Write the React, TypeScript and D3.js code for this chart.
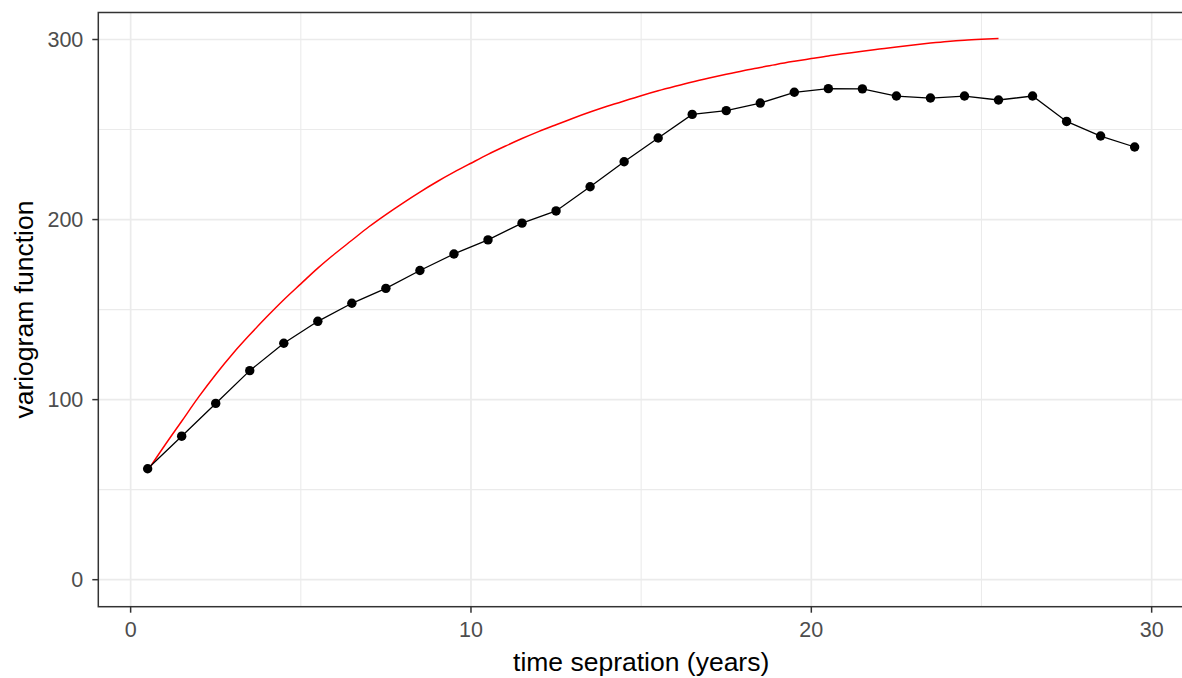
import React from "react";
import * as d3 from "d3";

const lagValues = [0.5, 1.5, 2.5, 3.5, 4.5, 5.5, 6.5, 7.5, 8.5, 9.5, 10.5, 11.5, 12.5, 13.5, 14.5, 15.5, 16.5, 17.5, 18.5, 19.5, 20.5, 21.5, 22.5, 23.5, 24.5, 25.5, 26.5, 27.5, 28.5, 29.5];
const empiricalValues = [61.6, 79.7, 97.9, 116.1, 131.3, 143.5, 153.5, 161.8, 171.7, 180.9, 188.7, 198.0, 204.8, 218.2, 232.1, 245.3, 258.4, 260.5, 264.7, 270.7, 272.7, 272.6, 268.6, 267.5, 268.6, 266.4, 268.6, 254.5, 246.4, 240.3];

const modelLags = [0.5, 1, 1.5, 2, 2.5, 3, 3.5, 4, 4.5, 5, 5.5, 6, 6.5, 7, 7.5, 8, 8.5, 9, 9.5, 10, 10.5, 11, 11.5, 12, 12.5, 13, 13.5, 14, 14.5, 15, 15.5, 16, 16.5, 17, 17.5, 18, 18.5, 19, 19.5, 20, 20.5, 21, 21.5, 22, 22.5, 23, 23.5, 24, 24.5, 25, 25.5];
const modelValues = [60.5, 74.5, 88, 101.5, 114, 125.5, 136, 146, 155.5, 164.3, 173, 181, 188.5, 196, 202.8, 209.2, 215.3, 221, 226.3, 231.3, 236.2, 240.7, 245, 249, 252.7, 256.3, 259.7, 262.9, 265.9, 268.8, 271.5, 274, 276.4, 278.6, 280.7, 282.7, 284.5, 286.3, 287.9, 289.4, 290.9, 292.2, 293.5, 294.7, 295.9, 297, 298, 298.9, 299.6, 300.1, 300.5];

const xTicks = [0, 10, 20, 30];
const xMinor = [5, 15, 25];
const yTicks = [0, 100, 200, 300];
const yMinor = [50, 150, 250];

const xTitle = "time sepration (years)";
const yTitle = "variogram function";

const W = 1182;
const H = 678;
const FONT = "'Liberation Sans', Arial, Helvetica, sans-serif";

export default function App() {
  const left = 98.3;
  const right = 1184;
  const top = 12.5;
  const bottom = 606.7;

  const x = d3.scaleLinear().domain([-0.95, 30.95]).range([left, right]);
  const y = d3.scaleLinear().domain([-15, 315]).range([bottom, top]);

  const empirical = lagValues.map((l, i) => [l, empiricalValues[i]] as [number, number]);
  const model = modelLags.map((l, i) => [l, modelValues[i]] as [number, number]);

  const lineGen = d3
    .line<[number, number]>()
    .x((d) => x(d[0]))
    .y((d) => y(d[1]));
  const curveGen = d3
    .line<[number, number]>()
    .x((d) => x(d[0]))
    .y((d) => y(d[1]))
    .curve(d3.curveMonotoneX);

  const gridColor = "#ebebeb";
  const axisColor = "#333333";
  const textColor = "#4d4d4d";

  return (
    <svg
      width={W}
      height={H}
      style={{ position: "absolute", left: 0, top: 0, background: "#fff" }}
      xmlns="http://www.w3.org/2000/svg"
    >
      <rect x={0} y={0} width={W} height={H} fill="#ffffff" />
      <defs>
        <clipPath id="panel">
          <rect x={left} y={top} width={right - left} height={bottom - top} />
        </clipPath>
      </defs>
      <g clipPath="url(#panel)">
        {xMinor.map((t) => (
          <line key={"xm" + t} x1={x(t)} x2={x(t)} y1={top} y2={bottom} stroke={gridColor} strokeWidth={1.1} />
        ))}
        {yMinor.map((t) => (
          <line key={"ym" + t} x1={left} x2={right} y1={y(t)} y2={y(t)} stroke={gridColor} strokeWidth={1.1} />
        ))}
        {xTicks.map((t) => (
          <line key={"xg" + t} x1={x(t)} x2={x(t)} y1={top} y2={bottom} stroke={gridColor} strokeWidth={1.7} />
        ))}
        {yTicks.map((t) => (
          <line key={"yg" + t} x1={left} x2={right} y1={y(t)} y2={y(t)} stroke={gridColor} strokeWidth={1.7} />
        ))}
        <path d={curveGen(model) || ""} fill="none" stroke="#ff0000" strokeWidth={1.5} />
        <path d={lineGen(empirical) || ""} fill="none" stroke="#000000" strokeWidth={1.3} />
        {empirical.map((d, i) => (
          <circle key={"p" + i} cx={x(d[0])} cy={y(d[1])} r={4.7} fill="#000000" />
        ))}
      </g>
      <rect
        x={left}
        y={top}
        width={right - left}
        height={bottom - top}
        fill="none"
        stroke={axisColor}
        strokeWidth={1.5}
      />
      {xTicks.map((t) => (
        <g key={"xt" + t}>
          <line x1={x(t)} x2={x(t)} y1={bottom} y2={bottom + 6} stroke={axisColor} strokeWidth={1.5} />
          <text
            x={x(t)}
            y={637}
            textAnchor="middle"
            fontFamily={FONT}
            fontSize={21.5}
            fill={textColor}
          >
            {t}
          </text>
        </g>
      ))}
      {yTicks.map((t) => (
        <g key={"yt" + t}>
          <line x1={left - 6} x2={left} y1={y(t)} y2={y(t)} stroke={axisColor} strokeWidth={1.5} />
          <text
            x={left - 15}
            y={y(t)}
            dy="0.36em"
            textAnchor="end"
            fontFamily={FONT}
            fontSize={21.5}
            fill={textColor}
          >
            {t}
          </text>
        </g>
      ))}
      <text
        x={(left + right) / 2}
        y={671}
        textAnchor="middle"
        fontFamily={FONT}
        fontSize={26.5}
        fill="#000000"
      >
        {xTitle}
      </text>
      <text
        transform={`translate(33, ${(top + bottom) / 2}) rotate(-90)`}
        textAnchor="middle"
        fontFamily={FONT}
        fontSize={26.5}
        fill="#000000"
      >
        {yTitle}
      </text>
    </svg>
  );
}
